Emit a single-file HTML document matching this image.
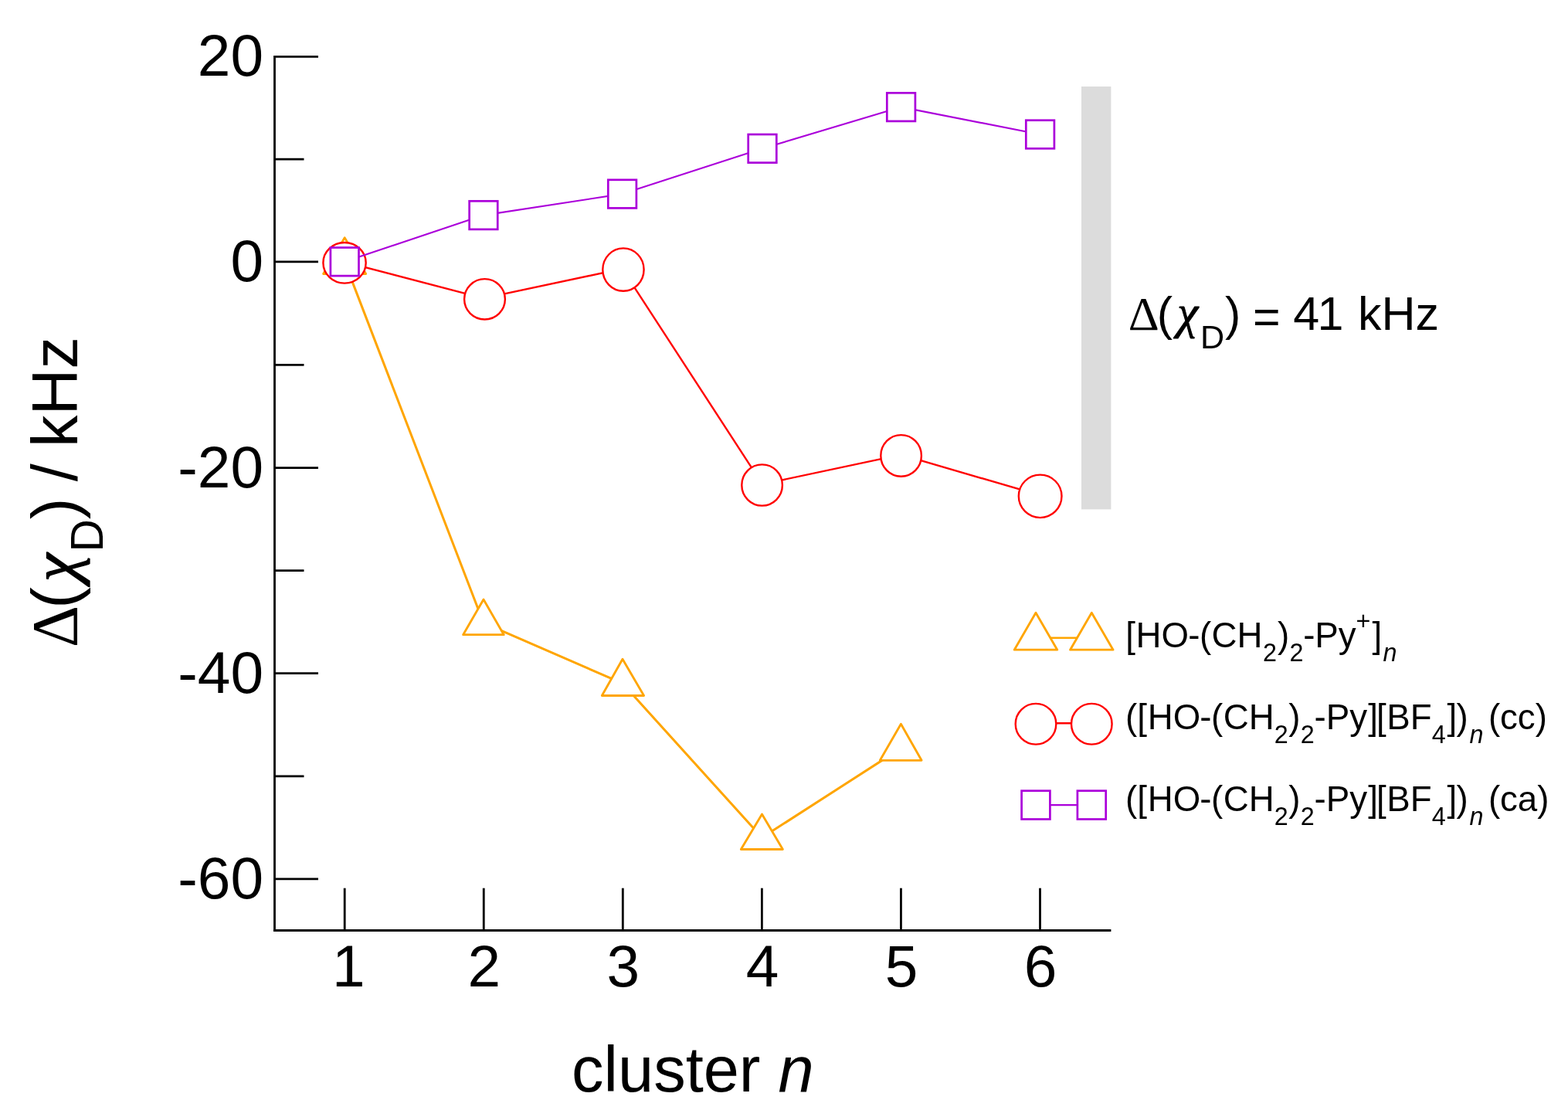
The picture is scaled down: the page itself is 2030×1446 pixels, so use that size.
<!DOCTYPE html>
<html lang="en">
<head>
<meta charset="utf-8">
<title>Δ(χD) / kHz vs cluster n</title>
<style>
html, body { margin: 0; padding: 0; background: #ffffff; }
body { width: 2030px; height: 1446px; overflow: hidden; }
svg { display: block; }
text { font-family: "Liberation Sans", sans-serif; fill: #000; white-space: pre; font-kerning: none; }
.sy { font-family: "Liberation Serif", serif; }
</style>
</head>
<body>
<svg width="2030" height="1446" viewBox="0 0 2030 1446">
<rect x="0" y="0" width="2030" height="1446" fill="#ffffff"/>
<g shape-rendering="geometricPrecision">
<rect x="1400" y="112" width="38.4" height="547.4" fill="#dcdcdc"/>
<path d="M355.5,72.0 V1206.0" stroke="#000" stroke-width="2.8" fill="none"/>
<path d="M354.0,1204.5 H1438.4" stroke="#000" stroke-width="2.8" fill="none"/>
<path d="M355.5,73.40 H412.0" stroke="#000" stroke-width="2.8" fill="none"/>
<path d="M355.5,206.15 H393.5" stroke="#000" stroke-width="2.8" fill="none"/>
<path d="M355.5,338.90 H412.0" stroke="#000" stroke-width="2.8" fill="none"/>
<path d="M355.5,472.30 H393.5" stroke="#000" stroke-width="2.8" fill="none"/>
<path d="M355.5,605.70 H412.0" stroke="#000" stroke-width="2.8" fill="none"/>
<path d="M355.5,738.70 H393.5" stroke="#000" stroke-width="2.8" fill="none"/>
<path d="M355.5,871.70 H412.0" stroke="#000" stroke-width="2.8" fill="none"/>
<path d="M355.5,1004.80 H393.5" stroke="#000" stroke-width="2.8" fill="none"/>
<path d="M355.5,1137.90 H412.0" stroke="#000" stroke-width="2.8" fill="none"/>
<path d="M446.20,1204.5 V1149.7" stroke="#000" stroke-width="2.8" fill="none"/>
<path d="M626.26,1204.5 V1149.7" stroke="#000" stroke-width="2.8" fill="none"/>
<path d="M806.32,1204.5 V1149.7" stroke="#000" stroke-width="2.8" fill="none"/>
<path d="M986.38,1204.5 V1149.7" stroke="#000" stroke-width="2.8" fill="none"/>
<path d="M1166.44,1204.5 V1149.7" stroke="#000" stroke-width="2.8" fill="none"/>
<path d="M1346.50,1204.5 V1149.7" stroke="#000" stroke-width="2.8" fill="none"/>
<path d="M446.20,338.87 L626.00,806.47 L806.00,884.73 L986.50,1084.33 L1166.40,968.63" fill="none" stroke="#ffa500" stroke-width="3.0" stroke-linejoin="round"/>
<path d="M446.2,307.6 L418.6,354.5 L473.7,354.5 Z" fill="#fff" stroke="#ffa500" stroke-width="2.8" stroke-linejoin="round"/>
<path d="M626.0,776.0 L599.6,821.7 L652.3,821.7 Z" fill="#fff" stroke="#ffa500" stroke-width="2.8" stroke-linejoin="round"/>
<path d="M806.0,853.2 L779.3,900.5 L833.6,900.5 Z" fill="#fff" stroke="#ffa500" stroke-width="2.8" stroke-linejoin="round"/>
<path d="M986.5,1054.0 L959.3,1099.5 L1013.4,1099.5 Z" fill="#fff" stroke="#ffa500" stroke-width="2.8" stroke-linejoin="round"/>
<path d="M1166.4,937.3 L1139.3,984.3 L1193.1,984.3 Z" fill="#fff" stroke="#ffa500" stroke-width="2.8" stroke-linejoin="round"/>
<path d="M446.20,339.10 L625.95,386.10 L805.60,347.90 L987.00,626.80 L1166.60,588.70 L1346.60,641.15" fill="none" stroke="#ff0000" stroke-width="2.4" stroke-linejoin="round"/>
<ellipse cx="446.05" cy="340.30" rx="27.65" ry="26.30" fill="#fff" stroke="#ff0000" stroke-width="2.4"/>
<ellipse cx="627.50" cy="387.30" rx="26.40" ry="26.20" fill="#fff" stroke="#ff0000" stroke-width="2.4"/>
<ellipse cx="806.95" cy="349.10" rx="26.65" ry="27.70" fill="#fff" stroke="#ff0000" stroke-width="2.4"/>
<ellipse cx="986.60" cy="628.00" rx="26.30" ry="26.60" fill="#fff" stroke="#ff0000" stroke-width="2.4"/>
<ellipse cx="1166.60" cy="589.90" rx="26.30" ry="26.80" fill="#fff" stroke="#ff0000" stroke-width="2.4"/>
<ellipse cx="1346.65" cy="642.35" rx="27.85" ry="27.75" fill="#fff" stroke="#ff0000" stroke-width="2.4"/>
<path d="M446.20,338.80 L625.95,278.60 L805.60,251.10 L987.00,192.30 L1166.60,138.60 L1346.60,174.00" fill="none" stroke="#ab00da" stroke-width="2.1" stroke-linejoin="round"/>
<rect x="427.90" y="320.50" width="36.60" height="36.60" fill="#fff" stroke="#ab00da" stroke-width="2.7"/>
<rect x="607.65" y="260.30" width="36.60" height="36.60" fill="#fff" stroke="#ab00da" stroke-width="2.7"/>
<rect x="787.30" y="232.80" width="36.60" height="36.60" fill="#fff" stroke="#ab00da" stroke-width="2.7"/>
<rect x="968.70" y="174.00" width="36.60" height="36.60" fill="#fff" stroke="#ab00da" stroke-width="2.7"/>
<rect x="1148.30" y="120.30" width="36.60" height="36.60" fill="#fff" stroke="#ab00da" stroke-width="2.7"/>
<rect x="1328.30" y="155.70" width="36.60" height="36.60" fill="#fff" stroke="#ab00da" stroke-width="2.7"/>
<path d="M1341.00,825.70 L1413.30,825.70" fill="none" stroke="#ffa500" stroke-width="2.6" stroke-linejoin="round"/>
<path d="M1341.0,793.2 L1313.2,841.2 L1368.8,841.2 Z" fill="#fff" stroke="#ffa500" stroke-width="2.8" stroke-linejoin="round"/>
<path d="M1413.3,793.2 L1385.5,841.2 L1441.1,841.2 Z" fill="#fff" stroke="#ffa500" stroke-width="2.8" stroke-linejoin="round"/>
<path d="M1341.00,936.20 L1413.30,936.20" fill="none" stroke="#ff0000" stroke-width="2.6" stroke-linejoin="round"/>
<ellipse cx="1341.00" cy="937.25" rx="26.30" ry="26.35" fill="#fff" stroke="#ff0000" stroke-width="2.4"/>
<ellipse cx="1413.30" cy="937.25" rx="26.30" ry="26.35" fill="#fff" stroke="#ff0000" stroke-width="2.4"/>
<path d="M1341.00,1042.10 L1413.30,1042.10" fill="none" stroke="#ab00da" stroke-width="2.1" stroke-linejoin="round"/>
<rect x="1322.60" y="1023.70" width="36.80" height="36.80" fill="#fff" stroke="#ab00da" stroke-width="2.7"/>
<rect x="1394.90" y="1023.70" width="36.80" height="36.80" fill="#fff" stroke="#ab00da" stroke-width="2.7"/>
</g>
<g>
<text x="341" y="98.40" font-size="76.6" text-anchor="end">20</text>
<text x="341" y="363.90" font-size="76.6" text-anchor="end">0</text>
<text x="341" y="630.70" font-size="76.6" text-anchor="end">-20</text>
<text x="341" y="896.70" font-size="76.6" text-anchor="end">-40</text>
<text x="341" y="1162.90" font-size="76.6" text-anchor="end">-60</text>
<text x="451.20" y="1276.8" font-size="76.6" text-anchor="middle">1</text>
<text x="626.86" y="1276.8" font-size="76.6" text-anchor="middle">2</text>
<text x="806.92" y="1276.8" font-size="76.6" text-anchor="middle">3</text>
<text x="986.98" y="1276.8" font-size="76.6" text-anchor="middle">4</text>
<text x="1167.04" y="1276.8" font-size="76.6" text-anchor="middle">5</text>
<text x="1347.10" y="1276.8" font-size="76.6" text-anchor="middle">6</text>
<text x="896.9" y="1413" font-size="83.0" text-anchor="middle">cluster <tspan font-style="italic">n</tspan></text>
<text transform="translate(99.6,0) rotate(-90)" font-size="83.0"><tspan x="-838.29" y="0.00" font-size="84.66" class="sy">Δ</tspan><tspan x="-787.70" y="0.00">(</tspan><tspan x="-753.09" y="-2.00" stroke="#000" stroke-width="1.3" stroke-linejoin="round" class="sy" font-style="italic">χ</tspan><tspan x="-714.57" y="33.20" font-size="58.69">D</tspan><tspan x="-672.34" y="0.00">)</tspan><tspan x="-646.34" y="0.00"> /</tspan><tspan x="-602.01" y="0.00"> kHz</tspan></text>
<text font-size="61.0"><tspan x="1460.63" y="426.50" font-size="62.22" class="sy">Δ</tspan><tspan x="1497.83" y="426.50">(</tspan><tspan x="1524.25" y="425.00" stroke="#000" stroke-width="1.0" stroke-linejoin="round" class="sy" font-style="italic">χ</tspan><tspan x="1553.99" y="450.90" font-size="43.13">D</tspan><tspan x="1585.96" y="426.50">)</tspan><tspan x="1605.01" y="431.00"> =</tspan><tspan x="1657.38" y="426.50"> 4</tspan><tspan x="1705.60" y="426.50">1</tspan><tspan x="1740.94" y="426.50"> kHz</tspan></text>
<text font-size="45.7"><tspan x="1457.30" y="837.70">[</tspan><tspan x="1470.49" y="837.70">HO</tspan><tspan x="1538.34" y="837.70">-</tspan><tspan x="1552.96" y="837.70">(</tspan><tspan x="1568.60" y="837.70">CH</tspan><tspan x="1635.06" y="855.98" font-size="32.31">2</tspan><tspan x="1653.97" y="837.70">)</tspan><tspan x="1669.41" y="855.98" font-size="32.31">2</tspan><tspan x="1687.34" y="837.70">-</tspan><tspan x="1702.20" y="837.70">Py</tspan><tspan x="1755.57" y="814.98" font-size="32.31">+</tspan><tspan x="1776.40" y="837.70">]</tspan><tspan x="1790.48" y="855.98" font-size="32.31" font-style="italic">n</tspan></text>
<text font-size="45.7"><tspan x="1456.91" y="944.00">(</tspan><tspan x="1472.15" y="944.00">[</tspan><tspan x="1485.74" y="944.00">HO</tspan><tspan x="1553.29" y="944.00">-</tspan><tspan x="1568.06" y="944.00">(</tspan><tspan x="1583.85" y="944.00">CH</tspan><tspan x="1649.76" y="962.28" font-size="32.31">2</tspan><tspan x="1668.37" y="944.00">)</tspan><tspan x="1683.84" y="962.28" font-size="32.31">2</tspan><tspan x="1701.59" y="944.00">-</tspan><tspan x="1716.70" y="944.00">Py</tspan><tspan x="1771.25" y="944.00">]</tspan><tspan x="1782.05" y="944.00">[</tspan><tspan x="1795.29" y="944.00">BF</tspan><tspan x="1853.82" y="962.28" font-size="32.31">4</tspan><tspan x="1873.40" y="944.00">]</tspan><tspan x="1885.57" y="944.00">)</tspan><tspan x="1902.38" y="962.28" font-size="32.31" font-style="italic">n</tspan><tspan x="1914.31" y="944.00"> (</tspan><tspan x="1941.94" y="944.00">cc)</tspan></text>
<text font-size="45.7"><tspan x="1456.91" y="1050.20">(</tspan><tspan x="1472.15" y="1050.20">[</tspan><tspan x="1485.74" y="1050.20">HO</tspan><tspan x="1553.29" y="1050.20">-</tspan><tspan x="1568.06" y="1050.20">(</tspan><tspan x="1583.85" y="1050.20">CH</tspan><tspan x="1649.76" y="1068.48" font-size="32.31">2</tspan><tspan x="1668.37" y="1050.20">)</tspan><tspan x="1683.84" y="1068.48" font-size="32.31">2</tspan><tspan x="1701.59" y="1050.20">-</tspan><tspan x="1716.70" y="1050.20">Py</tspan><tspan x="1771.25" y="1050.20">]</tspan><tspan x="1782.05" y="1050.20">[</tspan><tspan x="1795.29" y="1050.20">BF</tspan><tspan x="1853.82" y="1068.48" font-size="32.31">4</tspan><tspan x="1873.40" y="1050.20">]</tspan><tspan x="1885.57" y="1050.20">)</tspan><tspan x="1902.38" y="1068.48" font-size="32.31" font-style="italic">n</tspan><tspan x="1914.31" y="1050.20"> (</tspan><tspan x="1941.95" y="1050.20">ca)</tspan></text>
</g>
</svg>
</body>
</html>
